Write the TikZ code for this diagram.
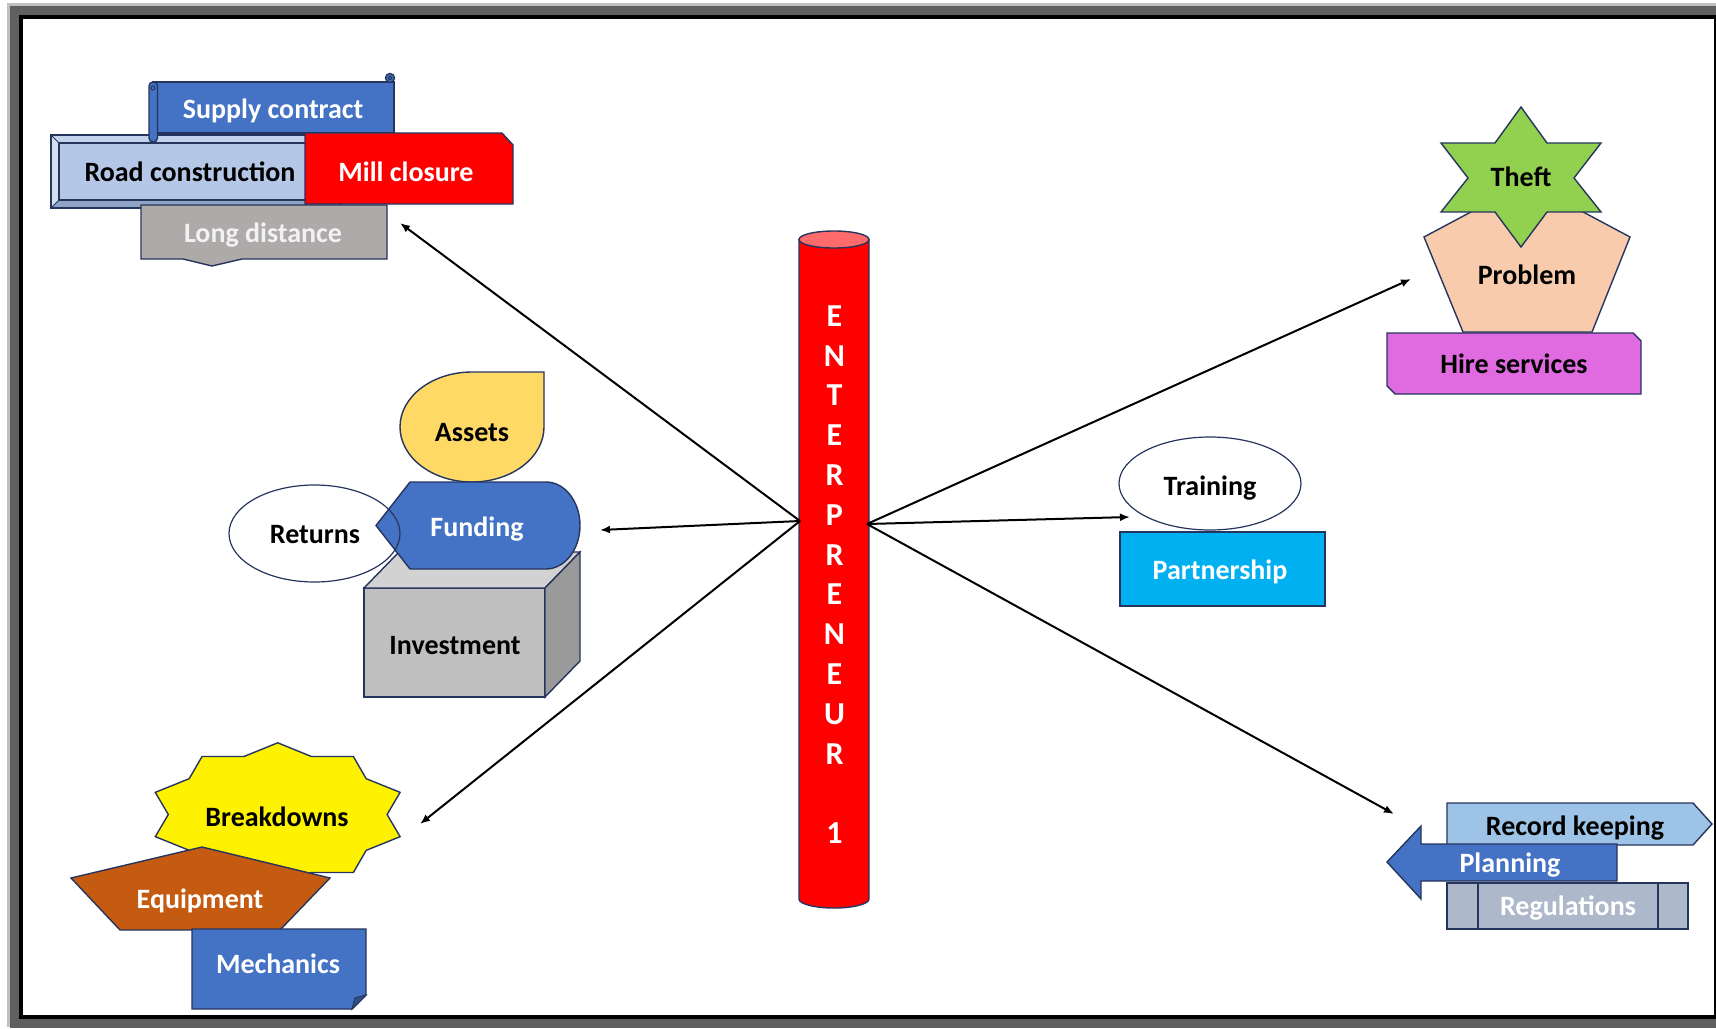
\documentclass[tikz,border=0pt]{standalone}
\usepackage{fontspec}
\setmainfont{Carlito}
\usetikzlibrary{arrows.meta}

\definecolor{edge}{HTML}{26355E}
\definecolor{frameL}{HTML}{C0C0C0}
\definecolor{frameD}{HTML}{606060}
\definecolor{blueA}{HTML}{4472C4}
\definecolor{roadF}{HTML}{B4C7E7}
\definecolor{roadL}{HTML}{D3DEF1}
\definecolor{roadT}{HTML}{C4D3EC}
\definecolor{roadB}{HTML}{8FA3C4}
\definecolor{grayLD}{HTML}{AEAAAA}
\definecolor{assetsF}{HTML}{FFD966}
\definecolor{invF}{HTML}{BFBFBF}
\definecolor{invT}{HTML}{D2D2D2}
\definecolor{invS}{HTML}{9A9A9A}
\definecolor{equipF}{HTML}{C55A11}
\definecolor{theftF}{HTML}{92D050}
\definecolor{probF}{HTML}{F8CBAD}
\definecolor{hireF}{HTML}{E06AE0}
\definecolor{partF}{HTML}{00B0F0}
\definecolor{recF}{HTML}{9DC3E6}
\definecolor{regF}{HTML}{ADB9CA}
\definecolor{cylTop}{HTML}{FF6B6B}

\tikzset{
  outl/.style={draw=edge, line width=1.4pt, line join=miter},
  lbl/.style={font=\fontsize{28}{32}\selectfont\bfseries, inner sep=0pt,
              text height=18pt, text depth=0pt, anchor=center},
  letter/.style={font=\fontsize{32}{36}\selectfont\bfseries, inner sep=0pt,
                 text height=20.6pt, text depth=0pt, anchor=center, text=white},
  link/.style={line width=2pt, -{Latex[length=10pt,width=8pt]}},
}

\begin{document}
\begin{tikzpicture}[x=1pt,y=-1pt]
\useasboundingbox (0,0) rectangle (1716,1028);

% slide frame with its shadow
\fill[white] (0,0) rectangle (1716,1028);
\fill[frameL] (7,3) rectangle (1716,1026.7);
\fill[frameD] (9.5,5.5) rectangle (1716,1028);
\fill[black] (18.5,14.5) rectangle (1716,1019);
\fill[white] (22.5,18.5) rectangle (1714.3,1014.5);

% ---------- top-left group ----------
% bevelled panel
\fill[roadF] (51,135) rectangle (340,208);
\fill[roadL] (51,135) -- (59,143) -- (59,200) -- (51,208) -- cycle;
\fill[roadT] (51,135) -- (340,135) -- (332,143) -- (59,143) -- cycle;
\fill[roadB] (51,208) -- (59,200) -- (332,200) -- (340,208) -- cycle;
\draw[edge, line width=1.2pt] (51,135) rectangle (340,208);
\draw[edge, line width=1.2pt] (59,143) rectangle (332,200);
\draw[edge, line width=1pt] (51,135) -- (59,143) (51,208) -- (59,200);
\node[lbl] (road) at (190,172) {Road construction};

% scroll
\filldraw[outl, fill=blueA] (153,82) rectangle (394,133);
\filldraw[outl, fill=blueA] (390,78) circle (4.5);
\draw[edge, line width=1pt] (390,78) circle (1.8);
\filldraw[outl, fill=blueA, rounded corners=4] (149,82) rectangle (157.5,142);
\draw[edge, line width=1pt] (153,88) circle (2);
\node[lbl, text=white] (supply) at (273,109) {Supply contract};

% snipped red panel
\filldraw[outl, fill=red] (305,133) -- (502,133) -- (513,145) -- (513,204) -- (305,204) -- cycle;
\node[lbl, text=white] (mill) at (406,172) {Mill closure};

% gray panel with notch
\filldraw[outl, fill=grayLD] (141,205) -- (387,205) -- (387,259) -- (242,259) -- (212,266)
  -- (183,259) -- (141,259) -- cycle;
\node[lbl, text={black!5}] (longd) at (263,233) {Long distance};

% ---------- middle-left group ----------
\filldraw[outl, fill=assetsF] (472,372) -- (544,372) -- (544,427)
  arc[start angle=0, end angle=270, x radius=72, y radius=55] -- cycle;
\node[lbl] (assets) at (472,432) {Assets};

\filldraw[outl, fill=invF] (364,588) rectangle (545,697);
\filldraw[outl, fill=invT] (364,588) -- (399,552) -- (580,552) -- (545,588) -- cycle;
\filldraw[outl, fill=invS] (545,588) -- (580,552) -- (580,661) -- (545,697) -- cycle;
\node[lbl] (invest) at (455,645) {Investment};

\filldraw[outl, fill=blueA] (376,525.5) -- (410,482) -- (546,482)
  arc[start angle=-90, end angle=90, x radius=34, y radius=43.5] -- (410,569) -- cycle;
\node[lbl, text=white] (funding) at (477,527) {Funding};

\draw[outl, line width=1.2pt] (314.5,533.5) ellipse [x radius=85.5, y radius=48.5];
\node[lbl] (returns) at (315,534) {Returns};

% ---------- bottom-left group ----------
\filldraw[outl, fill=yellow] plot[samples at={0,1,...,19}]
  ({277.7+128.7*(1-0.15*mod(\x,2))*cos(90+18*\x)},
   {814.5-71.7*(1-0.15*mod(\x,2))*sin(90+18*\x)}) -- cycle;
\node[lbl] (brk) at (277,817) {Breakdowns};

\filldraw[outl, fill=equipF] (71,878) -- (202,847) -- (330,878) -- (280,930) -- (120,930) -- cycle;
\node[lbl, text=white] (equip) at (200,899) {Equipment};

\filldraw[outl, fill=blueA] (192,929) -- (366,929) -- (366,995) -- (352,1009) -- (192,1009) -- cycle;
\filldraw[outl, line width=1pt, fill=blueA!70!black] (366,995) -- (352,1009) -- (355,998) -- cycle;
\node[lbl, text=white] (mech) at (278,964) {Mechanics};

% ---------- top-right group ----------
\filldraw[outl, fill=probF] (1527,182) -- (1630,237) -- (1592,332) -- (1463,332) -- (1424,237) -- cycle;
\node[lbl] (problem) at (1527,275) {Problem};

\filldraw[outl, fill=theftF] (1521,107) -- (1547,143) -- (1601,143) -- (1574,178) -- (1601,212)
  -- (1547,212) -- (1521,247) -- (1495,212) -- (1441,212) -- (1468,178) -- (1441,143)
  -- (1495,143) -- cycle;
\node[lbl] (theft) at (1521,177) {Theft};

\filldraw[outl, fill=hireF] (1387,333) -- (1633,333) -- (1641,341) -- (1641,394) -- (1395,394)
  -- (1387,386) -- cycle;
\node[lbl] (hire) at (1514,364) {Hire services};

% ---------- middle-right group ----------
\filldraw[outl, fill=partF] (1120,532) rectangle (1325,606);
\node[lbl, text=white] (partner) at (1220,570) {Partnership};
\filldraw[outl, line width=1.2pt, fill=white] (1210,483.5) ellipse [x radius=91, y radius=46.5];
\node[lbl] (training) at (1210,486) {Training};

% ---------- bottom-right group ----------
\filldraw[outl, fill=recF] (1447,803) -- (1693,803) -- (1712,824) -- (1693,845) -- (1447,845) -- cycle;
\node[lbl] (record) at (1575,826) {Record keeping};

\filldraw[outl, fill=regF] (1447,883) rectangle (1688,929);
\draw[outl] (1478,883) -- (1478,929) (1658,883) -- (1658,929);
\node[lbl, text=white] (regul) at (1568,906) {Regulations};

\filldraw[outl, fill=blueA] (1387,862) -- (1421,826) -- (1421,844) -- (1617,844) -- (1617,881)
  -- (1421,881) -- (1421,899) -- cycle;
\node[lbl, text=white] (plan) at (1510,863) {Planning};

% ---------- central column ----------
\filldraw[outl, fill=red] (799,239.5) -- (799,899)
  arc[start angle=180, end angle=0, x radius=35, y radius=9] -- (869,239.5) -- cycle;
\filldraw[outl, fill=cylTop] (834,239.5) ellipse [x radius=35, y radius=8.5];
\foreach \ch/\k in {E/0,N/1,T/2,E/3,R/4,P/5,R/6,E/7,N/8,E/9,U/10,R/11,1/13}
  \node[letter] (ch\k) at (834.5,{316+39.8*\k}) {\ch};

% ---------- connectors ----------
\coordinate (hubL) at (800,521);
\coordinate (hubR) at (867,524);
\coordinate (toLong) at (400,223);
\coordinate (toFund) at (600,530);
\coordinate (toBrk) at (420,824);
\coordinate (toProb) at (1411,279);
\coordinate (toTrain) at (1130,517);
\coordinate (toRec) at (1394,814);
\draw[link] (hubL) -- (toLong);
\draw[link] (hubL) -- (toFund);
\draw[link] (hubL) -- (toBrk);
\draw[link] (hubR) -- (toProb);
\draw[link] (hubR) -- (toTrain);
\draw[link] (hubR) -- (toRec);
\end{tikzpicture}
\end{document}
